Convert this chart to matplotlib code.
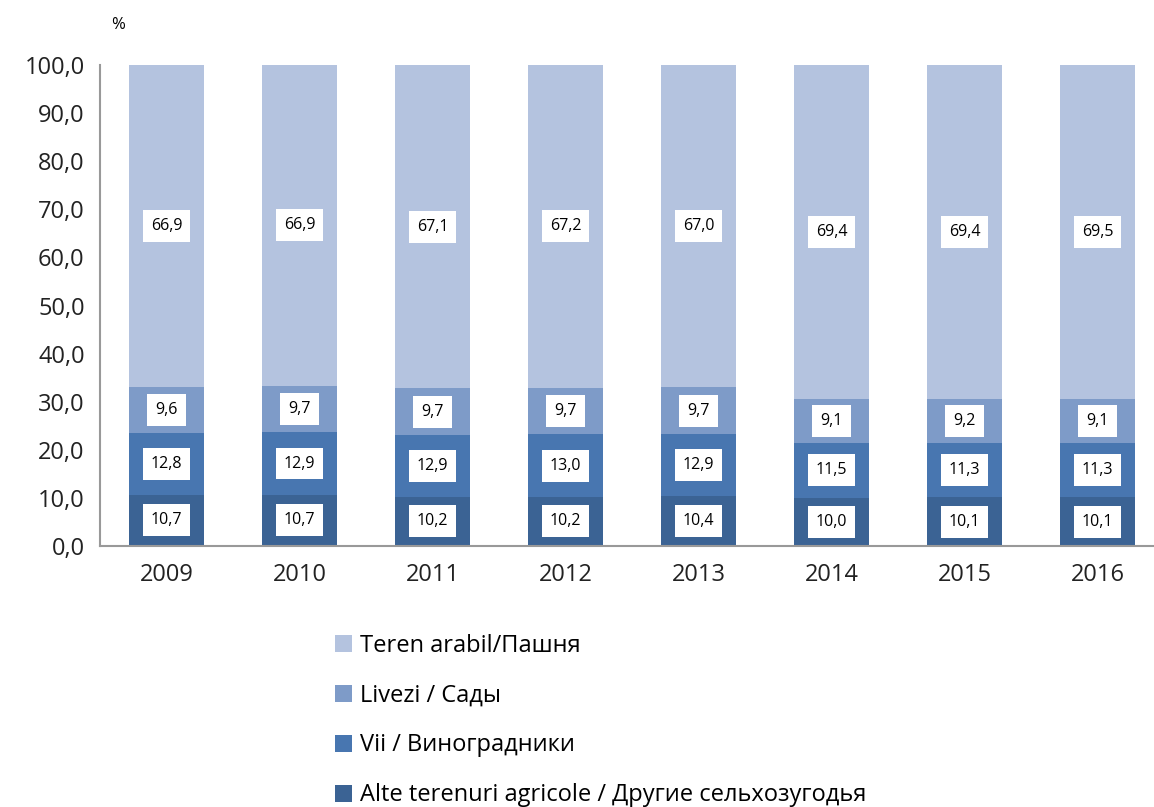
import matplotlib
matplotlib.use('Agg')
from matplotlib import pyplot as plt
import numpy as np

plt.rcParams['font.family'] = ['Open Sans', 'DejaVu Sans']

years = ['2009', '2010', '2011', '2012', '2013', '2014', '2015', '2016']
alte = [10.7, 10.7, 10.2, 10.2, 10.4, 10.0, 10.1, 10.1]
vii = [12.8, 12.9, 12.9, 13.0, 12.9, 11.5, 11.3, 11.3]
livezi = [9.6, 9.7, 9.7, 9.7, 9.7, 9.1, 9.2, 9.1]
teren = [66.9, 66.9, 67.1, 67.2, 67.0, 69.4, 69.4, 69.5]

names = ['Alte terenuri agricole / Другие сельхозугодья', 'Vii / Виноградники',
         'Livezi / Сады', 'Teren arabil/Пашня']
colors = ['#3B6394', '#4876B0', '#7E9BC8', '#B4C3DF']

fig = plt.figure(figsize=(11.54, 8.07), dpi=100)
ax = fig.add_axes([100/1154, 1 - 546/807, 1064/1154, (546-65)/807])

x = np.arange(len(years))
bottom = np.zeros(len(years))
handles = []
for vals, name, c in zip([alte, vii, livezi, teren], names, colors):
    vals = np.array(vals)
    b = ax.bar(x, vals, 0.57, bottom=bottom, color=c, label=name)
    handles.append(b)
    for xi, v, b0 in zip(x, vals, bottom):
        ax.text(xi, b0 + v/2, ('%.1f' % v).replace('.', ','), ha='center', va='center',
                fontsize=11.5, color='black',
                bbox=dict(boxstyle='square,pad=0.5', fc='white', ec='none'))
    bottom = bottom + vals

ax.set_xlim(-0.5, 7.5)
ax.set_ylim(0, 100)
ax.set_yticks(np.arange(0, 101, 10))
ax.set_yticklabels([('%.1f' % t).replace('.', ',') for t in np.arange(0, 101, 10)])
ax.set_xticks(x)
ax.set_xticklabels(years)
ax.tick_params(axis='both', labelsize=17, colors='#222222', length=0)
ax.tick_params(axis='x', pad=12)
ax.tick_params(axis='y', pad=11)
for s in ['top', 'right']:
    ax.spines[s].set_visible(False)
for s in ['left', 'bottom']:
    ax.spines[s].set_color('#999999')
    ax.spines[s].set_linewidth(1.5)

fig.text(118/1154, 1 - 25/807, '%', fontsize=12, ha='center', va='center')

fig.legend(handles[::-1], names[::-1], loc='upper left', bbox_to_anchor=(318/1154, 1 - 617/807),
           frameon=False, fontsize=17, handlelength=0.75, handleheight=0.75,
           handletextpad=0.35, labelspacing=1.1, borderpad=0.2)

plt.savefig('out.png')
